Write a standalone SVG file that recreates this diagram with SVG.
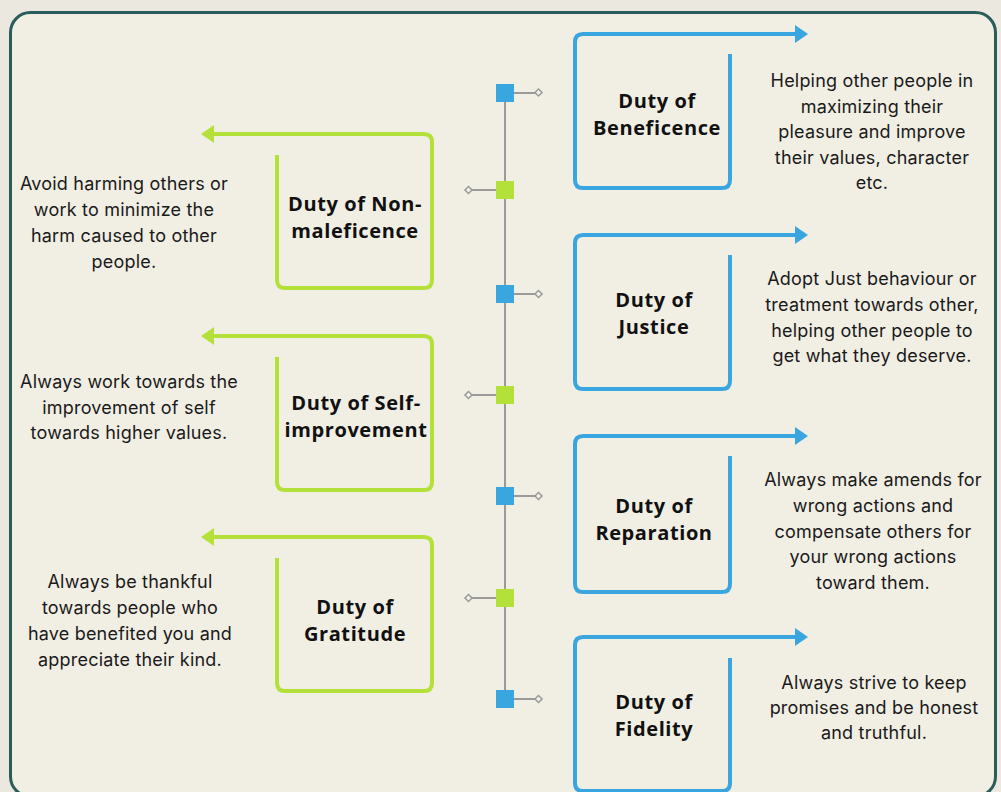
<svg xmlns="http://www.w3.org/2000/svg" width="1001" height="792" viewBox="0 0 1001 792">
<style>
.title{font-family:"Open Sans","Liberation Sans",sans-serif;font-weight:700;font-size:20px;letter-spacing:0.6px;fill:#111;text-anchor:middle}
.desc{font-family:Inter,"Liberation Sans",sans-serif;font-size:18px;letter-spacing:0.2px;fill:#1a1a1a;text-anchor:middle}
.blue{fill:none;stroke:#3aa6e0;stroke-width:4;stroke-linejoin:round}
.green{fill:none;stroke:#b4e03a;stroke-width:4;stroke-linejoin:round}
.bh{fill:#3aa6e0}
.gh{fill:#b4e03a}
.tl{stroke:#9a9a9a;stroke-width:2;fill:none}
.dot{fill:#f4f2ea;stroke:#9a9a9a;stroke-width:1.5}
</style>
<rect x="0" y="0" width="1001" height="792" fill="#ebe8e0"/>
<rect x="10.5" y="12.5" width="985" height="784" rx="20" fill="#f1eee4" stroke="#2b5c5c" stroke-width="3"/>
<g id="connectors">
<line class="tl" x1="505" y1="93" x2="505" y2="699"/>
<line class="tl" x1="514" y1="93" x2="536" y2="93"/><rect class="dot" x="536" y="90" width="5" height="5" transform="rotate(45 538.5 92.5)"/>
<line class="tl" x1="496" y1="190" x2="471" y2="190"/><rect class="dot" x="466" y="187.5" width="5" height="5" transform="rotate(45 468.5 190)"/>
<line class="tl" x1="514" y1="294" x2="536" y2="294"/><rect class="dot" x="536" y="291.5" width="5" height="5" transform="rotate(45 538.5 294)"/>
<line class="tl" x1="496" y1="395" x2="471" y2="395"/><rect class="dot" x="466" y="392.5" width="5" height="5" transform="rotate(45 468.5 395)"/>
<line class="tl" x1="514" y1="496" x2="536" y2="496"/><rect class="dot" x="536" y="493.5" width="5" height="5" transform="rotate(45 538.5 496)"/>
<line class="tl" x1="496" y1="598" x2="471" y2="598"/><rect class="dot" x="466" y="595.5" width="5" height="5" transform="rotate(45 468.5 598)"/>
<line class="tl" x1="514" y1="699" x2="536" y2="699"/><rect class="dot" x="536" y="696.5" width="5" height="5" transform="rotate(45 538.5 699)"/>
<rect class="bh" x="496" y="84" width="18" height="18"/>
<rect class="gh" x="496" y="181" width="18" height="18"/>
<rect class="bh" x="496" y="285" width="18" height="18"/>
<rect class="gh" x="496" y="386" width="18" height="18"/>
<rect class="bh" x="496" y="487" width="18" height="18"/>
<rect class="gh" x="496" y="589" width="18" height="18"/>
<rect class="bh" x="496" y="690" width="18" height="18"/>
</g>
<g id="beneficence">
<path class="blue" d="M730,54 V180 Q730,188 722,188 H583 Q575,188 575,180 V42 Q575,34 583,34 H797"/>
<polygon class="bh" points="795,25 808,34 795,43"/>
<text class="title" x="657" y="108">Duty of</text>
<text class="title" x="657" y="135">Beneficence</text>
<text class="desc" x="872" y="87">Helping other people in</text>
<text class="desc" x="872" y="113">maximizing their</text>
<text class="desc" x="872" y="138">pleasure and improve</text>
<text class="desc" x="872" y="164">their values, character</text>
<text class="desc" x="872" y="189">etc.</text>
</g>
<g id="nonmaleficence">
<path class="green" d="M277,155 V280 Q277,288 285,288 H424 Q432,288 432,280 V142 Q432,134 424,134 H212"/>
<polygon class="gh" points="214,125 201,134 214,143"/>
<text class="title" x="355" y="211">Duty of Non-</text>
<text class="title" x="355" y="238">maleficence</text>
<text class="desc" x="124" y="190">Avoid harming others or</text>
<text class="desc" x="124" y="216">work to minimize the</text>
<text class="desc" x="124" y="242">harm caused to other</text>
<text class="desc" x="124" y="268">people.</text>
</g>
<g id="justice">
<path class="blue" d="M730,255 V381 Q730,389 722,389 H583 Q575,389 575,381 V243 Q575,235 583,235 H797"/>
<polygon class="bh" points="795,226 808,235 795,244"/>
<text class="title" x="654" y="307">Duty of</text>
<text class="title" x="654" y="334">Justice</text>
<text class="desc" x="872" y="285">Adopt Just behaviour or</text>
<text class="desc" x="872" y="311">treatment towards other,</text>
<text class="desc" x="872" y="337">helping other people to</text>
<text class="desc" x="872" y="362">get what they deserve.</text>
</g>
<g id="selfimprovement">
<path class="green" d="M277,357 V482 Q277,490 285,490 H424 Q432,490 432,482 V344 Q432,336 424,336 H212"/>
<polygon class="gh" points="214,327 201,336 214,345"/>
<text class="title" x="356" y="410">Duty of Self-</text>
<text class="title" x="356" y="437">improvement</text>
<text class="desc" x="129" y="388">Always work towards the</text>
<text class="desc" x="129" y="414">improvement of self</text>
<text class="desc" x="129" y="439">towards higher values.</text>
</g>
<g id="reparation">
<path class="blue" d="M730,456 V584 Q730,592 722,592 H583 Q575,592 575,584 V444 Q575,436 583,436 H797"/>
<polygon class="bh" points="795,427 808,436 795,445"/>
<text class="title" x="654" y="513">Duty of</text>
<text class="title" x="654" y="540">Reparation</text>
<text class="desc" x="873" y="486">Always make amends for</text>
<text class="desc" x="873" y="512">wrong actions and</text>
<text class="desc" x="873" y="538">compensate others for</text>
<text class="desc" x="873" y="563">your wrong actions</text>
<text class="desc" x="873" y="589">toward them.</text>
</g>
<g id="gratitude">
<path class="green" d="M277,558 V683 Q277,691 285,691 H424 Q432,691 432,683 V545 Q432,537 424,537 H212"/>
<polygon class="gh" points="214,528 201,537 214,546"/>
<text class="title" x="355" y="614">Duty of</text>
<text class="title" x="355" y="641">Gratitude</text>
<text class="desc" x="130" y="588">Always be thankful</text>
<text class="desc" x="130" y="614">towards people who</text>
<text class="desc" x="130" y="640">have benefited you and</text>
<text class="desc" x="130" y="666">appreciate their kind.</text>
</g>
<g id="fidelity">
<path class="blue" d="M730,658 V783 Q730,791 722,791 H583 Q575,791 575,783 V645 Q575,637 583,637 H797"/>
<polygon class="bh" points="795,628 808,637 795,646"/>
<text class="title" x="654" y="709">Duty of</text>
<text class="title" x="654" y="736">Fidelity</text>
<text class="desc" x="874" y="689">Always strive to keep</text>
<text class="desc" x="874" y="714">promises and be honest</text>
<text class="desc" x="874" y="739">and truthful.</text>
</g>
</svg>
